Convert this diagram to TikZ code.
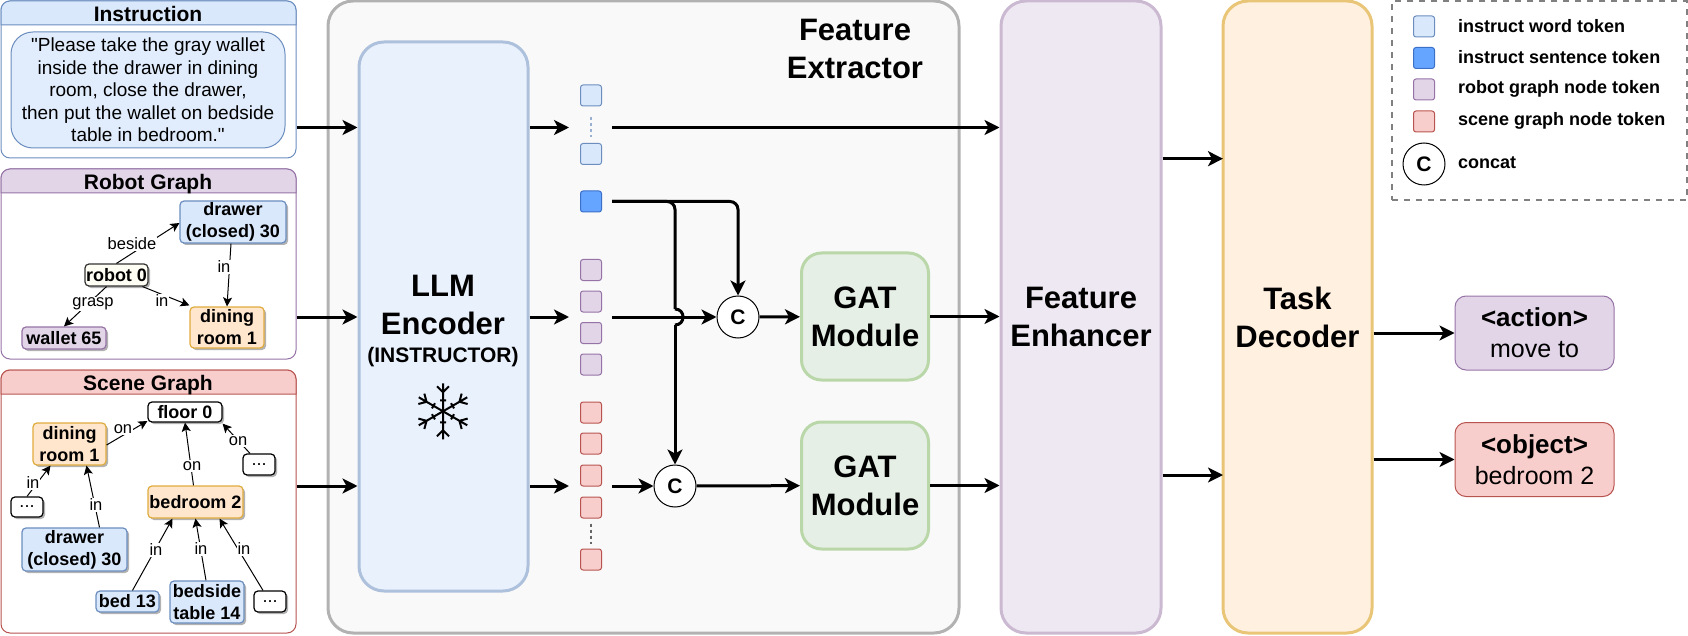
\documentclass[tikz,border=0pt]{standalone}
\usepackage{fontspec}
\setmainfont{Liberation Sans}[Ligatures=TeXOff]
\usetikzlibrary{arrows.meta, shadows}

\definecolor{wordfill}{HTML}{DAE8FC}
\definecolor{wordline}{HTML}{6C8EBF}
\definecolor{sentfill}{HTML}{66A5FF}
\definecolor{sentline}{HTML}{3B70C9}
\definecolor{robotfill}{HTML}{E1D5E7}
\definecolor{robotline}{HTML}{9673A6}
\definecolor{scenefill}{HTML}{F8CECC}
\definecolor{sceneline}{HTML}{B85450}
\definecolor{roomfill}{HTML}{FFE6CC}
\definecolor{roomline}{HTML}{E0AC3E}
\definecolor{gatfill}{HTML}{E6EFE5}
\definecolor{gatline}{HTML}{B9D7A8}

\tikzset{
  mainarrow/.style = {line width=3pt, -{Stealth[length=15pt, width=15pt, inset=4pt]}},
  mainline/.style = {line width=3pt},
  thinarrow/.style = {line width=1pt, -{Stealth[length=9pt, width=9pt, inset=2pt]}},
  titletext/.style = {font=\fontsize{31}{38}\selectfont\bfseries, align=center, inner sep=0pt},
  headtext/.style = {font=\fontsize{21}{24}\selectfont\bfseries, inner sep=0pt},
  bigbox/.style = {line width=3pt, rounded corners=25pt},
  panel/.style = {line width=1pt, rounded corners=9pt, fill=white},
  graphnode/.style = {
    line width=1.2pt, rounded corners=4pt, inner sep=0pt, align=center,
    font=\fontsize{18}{22}\selectfont\bfseries,
    drop shadow={shadow xshift=2pt, shadow yshift=-2pt, fill=black, opacity=0.3}
  },
  wordnode/.style = {graphnode, draw=wordline, fill=wordfill},
  roomnode/.style = {graphnode, draw=roomline, fill=roomfill},
  plainnode/.style = {graphnode, draw=black, fill=white},
  dotsnode/.style = {plainnode, font=\fontsize{18}{22}\selectfont},
  edgelab/.style = {fill=white, inner sep=1pt, font=\fontsize{16.5}{18}\selectfont},
  token/.style = {minimum width=21pt, minimum height=21pt, inner sep=0pt, line width=1pt, rounded corners=2.5pt},
  wordtok/.style = {token, draw=wordline, fill=wordfill},
  senttok/.style = {token, draw=sentline, fill=sentfill},
  robottok/.style = {token, draw=robotline, fill=robotfill},
  scenetok/.style = {token, draw=sceneline, fill=scenefill},
  tokdots/.style = {line width=1.2pt, dash pattern=on 3pt off 3pt},
  concat/.style = {circle, draw, fill=white, line width=1pt, minimum size=42pt, inner sep=0pt, font=\fontsize{21}{24}\selectfont\bfseries},
  gatbox/.style = {bigbox, draw=gatline, fill=gatfill, rounded corners=20pt, minimum width=127pt, minimum height=127pt, titletext},
  legendtext/.style = {anchor=west, inner sep=0pt, font=\fontsize{18}{22}\selectfont\bfseries},
  outbox/.style = {line width=1pt, rounded corners=11pt, minimum width=159pt, minimum height=74pt, align=center, inner sep=0pt,
    font=\fontsize{25}{31}\selectfont},
  flakearm/.pic = {
    \draw[line width=2pt] (0,0) -- (0,-28) (-6,-25) -- (0,-19) -- (6,-25) (-3,-11) -- (3,-11);
  }
}

\begin{document}
\begin{tikzpicture}[x=1pt, y=-1pt]
  \useasboundingbox (0,0) rectangle (1688,636);

  % Instruction panel
  \node[panel, draw=wordline, minimum width=295pt, minimum height=157pt] (instpanel) at (148.5,79.5) {};
  \draw[line width=1pt, draw=wordline, fill=wordfill] (1,25) {[rounded corners=9pt] -- (1,1) -- (296,1)} -- (296,25) -- cycle;
  \node[headtext] (insthead) at (148,14) {Instruction};
  \node[draw=wordline, fill=wordfill!80, line width=1pt, rounded corners=22pt, minimum width=274pt, minimum height=116pt,
    align=center, inner sep=0pt, font=\fontsize{19}{22.6}\selectfont] (instbox) at (148,90)
    {"Please take the gray wallet\\inside the drawer in dining\\room, close the drawer,\\then put the wallet on bedside\\table in bedroom."};

  % Robot graph panel
  \node[panel, draw=robotline, minimum width=295pt, minimum height=190pt] (robotpanel) at (148.5,264) {};
  \draw[line width=1pt, draw=robotline, fill=robotfill] (1,193) {[rounded corners=9pt] -- (1,169) -- (296,169)} -- (296,193) -- cycle;
  \node[headtext] (robothead) at (148,184) {Robot Graph};

  \node[wordnode, minimum width=106pt, minimum height=42pt] (rdrawer) at (233,222) {drawer\\(closed) 30};
  \node[graphnode, draw=black!80, fill=yellow!4!white, minimum width=63pt, minimum height=22pt] (rrobot) at (116.5,275) {robot 0};
  \node[roomnode, minimum width=74pt, minimum height=41pt] (rdining) at (227,327.5) {dining\\room 1};
  \node[graphnode, draw=robotline, fill=robotfill, minimum width=84pt, minimum height=22pt] (rwallet) at (64,338) {wallet 65};

  \draw[thinarrow] (rrobot.north) -- ([yshift=-1pt]rdrawer.west);
  \draw[thinarrow] ([xshift=-2pt]rdrawer.south) -- (rdining.north);
  \draw[thinarrow] ([xshift=26pt]rrobot.south) -- ([yshift=1pt]rdining.north west);
  \draw[thinarrow] ([xshift=-10pt]rrobot.south) -- (rwallet.north);
  \node[edgelab] (lbeside) at (132,244) {beside};
  \node[edgelab] (lrin) at (224,267) {in};
  \node[edgelab] (lgrasp) at (93,304) {grasp};
  \node[edgelab] (lrob) at (162,301) {in};

  % Scene graph panel
  \node[panel, draw=sceneline, minimum width=295pt, minimum height=263pt] (scenepanel) at (148.5,501.5) {};
  \draw[line width=1pt, draw=sceneline, fill=scenefill] (1,394) {[rounded corners=9pt] -- (1,370) -- (296,370)} -- (296,394) -- cycle;
  \node[headtext] (scenehead) at (148,385) {Scene Graph};

  \node[plainnode, minimum width=74pt, minimum height=20pt] (sfloor) at (185,412) {floor 0};
  \node[roomnode, minimum width=73pt, minimum height=42pt] (sdining) at (69.5,444) {dining\\room 1};
  \node[dotsnode, minimum width=32pt, minimum height=20pt] (sdotsa) at (27,507) {...};
  \node[dotsnode, minimum width=32pt, minimum height=21pt] (sdotsb) at (259,464.5) {...};
  \node[roomnode, minimum width=95pt, minimum height=32pt] (sbedroom) at (195.5,502) {bedroom 2};
  \node[wordnode, minimum width=105pt, minimum height=43pt] (sdrawer) at (74.5,549.5) {drawer\\(closed) 30};
  \node[wordnode, minimum width=63pt, minimum height=21pt] (sbed) at (127.5,601.5) {bed 13};
  \node[wordnode, minimum width=74pt, minimum height=42pt] (sbedside) at (207,602) {bedside\\table 14};
  \node[dotsnode, minimum width=32pt, minimum height=21pt] (sdotsc) at (270,601.5) {...};

  \draw[thinarrow] ([yshift=-1pt]sdining.east) -- ([yshift=-9pt]sfloor.west);
  \draw[thinarrow] ([xshift=-9pt]sdotsb.north) -- ([yshift=-1pt]sfloor.south east);
  \draw[thinarrow] ([xshift=-2pt]sbedroom.north) -- (sfloor.south);
  \draw[thinarrow] (sdotsa.north) -- ([xshift=-19pt]sdining.south);
  \draw[thinarrow] ([xshift=25pt]sdrawer.north) -- ([xshift=17pt]sdining.south);
  \draw[thinarrow] ([xshift=5pt]sbed.north) -- ([xshift=-23pt]sbedroom.south);
  \draw[thinarrow] ([xshift=-1pt]sbedside.north) -- (sbedroom.south);
  \draw[thinarrow] ([xshift=-7pt]sdotsc.north) -- ([xshift=24pt]sbedroom.south);
  \node[edgelab] (lsona) at (123,429) {on};
  \node[edgelab] (lsonb) at (238,441) {on};
  \node[edgelab] (lsonc) at (192,466) {on};
  \node[edgelab] (lsina) at (33,483) {in};
  \node[edgelab] (lsinb) at (96,505) {in};
  \node[edgelab] (lsinc) at (156,550) {in};
  \node[edgelab] (lsind) at (201,549) {in};
  \node[edgelab] (lsine) at (244,549) {in};

  % Feature extractor
  \node[bigbox, draw=black!30, fill=black!2.5, minimum width=631pt, minimum height=632pt] (extractor) at (643.5,317) {};
  \node[titletext] (extractortitle) at (855,49) {Feature\\Extractor};

  % LLM encoder
  \node[bigbox, draw=wordline!55, fill=wordfill!60, minimum width=169pt, minimum height=549pt] (encoder) at (443.5,316.5) {};
  \node[titletext] (encodertitle) at (443,305) {LLM\\Encoder};
  \node[headtext] (encodersub) at (443,357) {(INSTRUCTOR)};

  % Snowflake
  \coordinate (flake) at (443,411.3);
  \pic at (flake) {flakearm};
  \pic[rotate=60] at (flake) {flakearm};
  \pic[rotate=120] at (flake) {flakearm};
  \pic[rotate=180] at (flake) {flakearm};
  \pic[rotate=240] at (flake) {flakearm};
  \pic[rotate=300] at (flake) {flakearm};

  % Tokens
  \node[wordtok] (tokwa) at (591,95.5) {};
  \node[wordtok] (tokwb) at (591,154) {};
  \node[senttok] (toksent) at (591,201.5) {};
  \node[robottok] (tokra) at (591,270) {};
  \node[robottok] (tokrb) at (591,301.5) {};
  \node[robottok] (tokrc) at (591,333) {};
  \node[robottok] (tokrd) at (591,364.5) {};
  \node[scenetok] (toksa) at (591,412.5) {};
  \node[scenetok] (toksb) at (591,443.5) {};
  \node[scenetok] (toksc) at (591,475.5) {};
  \node[scenetok] (toksd) at (591,507.5) {};
  \node[scenetok] (tokse) at (591,559.5) {};
  \draw[tokdots, wordline!70, shorten <=11pt, shorten >=6pt] (tokwa) -- (tokwb);
  \draw[tokdots, black!60, shorten <=5pt, shorten >=5pt] (toksd) -- (tokse);

  % Concat and GAT modules
  \node[concat] (conca) at (738,317) {C};
  \node[concat] (concb) at (675,486) {C};
  \node[gatbox] (gata) at (865,316.5) {GAT\\Module};
  \node[gatbox] (gatb) at (865,485.5) {GAT\\Module};

  % Enhancer and decoder
  \node[bigbox, draw=robotline!50, fill=robotfill!55, minimum width=160pt, minimum height=632pt, titletext] (enhancer) at (1081,317) {Feature\\Enhancer};
  \node[bigbox, draw=roomline!70, fill=roomfill!60, minimum width=149pt, minimum height=632pt, titletext] (decoder) at (1297.5,317) {Task\\Decoder};

  % Outputs
  \node[outbox, draw=robotline, fill=robotfill] (action) at (1534.5,333) {\textbf{\fontsize{26}{31}\selectfont <action>}\\move to};
  \node[outbox, draw=sceneline, fill=scenefill] (object) at (1534.5,459.5) {\textbf{\fontsize{26}{31}\selectfont <object>}\\bedroom 2};

  % Row coordinates
  \coordinate (rowa) at (569,127.5);
  \coordinate (rowb) at (569,317);
  \coordinate (rowc) at (569,486);
  \coordinate (outa) at (612,127.5);
  \coordinate (outb) at (612,317);
  \coordinate (outc) at (612,486);
  \coordinate (outsent) at (612,201.5);
  \coordinate (jumptop) at (675,309);
  \coordinate (jumpbot) at (675,325);
  \coordinate (decina) at (1223,158.7);
  \coordinate (decinb) at (1223,475);

  % Input arrows
  \draw[mainarrow] (instpanel.east |- rowa) -- (encoder.west |- rowa);
  \draw[mainarrow] (robotpanel.east |- rowb) -- (encoder.west |- rowb);
  \draw[mainarrow] (scenepanel.east |- rowc) -- (encoder.west |- rowc);
  \draw[mainarrow] (encoder.east |- rowa) -- (rowa);
  \draw[mainarrow] (encoder.east |- rowb) -- (rowb);
  \draw[mainarrow] (encoder.east |- rowc) -- (rowc);

  % Token arrows
  \draw[mainarrow] (outa) -- (enhancer.west |- outa);
  \draw[mainarrow] (outb) -- (conca);
  \draw[mainarrow] (outc) -- (concb);
  \draw[mainarrow, rounded corners=8pt] (outsent) -| (conca);
  \draw[mainline, rounded corners=8pt] (outsent) -| (jumptop);
  \draw[mainline] (jumptop) .. controls (685.7,309) and (685.7,325) .. (jumpbot);
  \draw[mainarrow] (jumpbot) -- (concb);

  % Module arrows
  \draw[mainarrow] (conca) -- (gata);
  \draw[mainarrow] (concb) -- (gatb);
  \draw[mainarrow] (gata) -- (enhancer.west |- gata);
  \draw[mainarrow] (gatb) -- (enhancer.west |- gatb);
  \draw[mainarrow] (enhancer.east |- decina) -- (decina);
  \draw[mainarrow] (enhancer.east |- decinb) -- (decinb);
  \draw[mainarrow] (decoder.east |- action) -- (action);
  \draw[mainarrow] (decoder.east |- object) -- (object);

  % Legend
  \node[draw=black!50, line width=2pt, dash pattern=on 6pt off 6pt, minimum width=295pt, minimum height=199pt] (legend) at (1539.5,100.5) {};
  \node[wordtok] (legword) at (1424,26.5) {};
  \node[senttok] (legsent) at (1424,58) {};
  \node[robottok] (legrobot) at (1424,89.5) {};
  \node[scenetok] (legscene) at (1424,121.5) {};
  \node[concat] (legconcat) at (1424,164) {C};
  \node[legendtext] (legwordtext) at (1458,26) {instruct word token};
  \node[legendtext] (legsenttext) at (1458,57) {instruct sentence token};
  \node[legendtext] (legrobottext) at (1458,89) {robot graph node token};
  \node[legendtext] (legscenetext) at (1458,121) {scene graph node token};
  \node[legendtext] (legconcattext) at (1458,163) {concat};

\end{tikzpicture}
\end{document}
